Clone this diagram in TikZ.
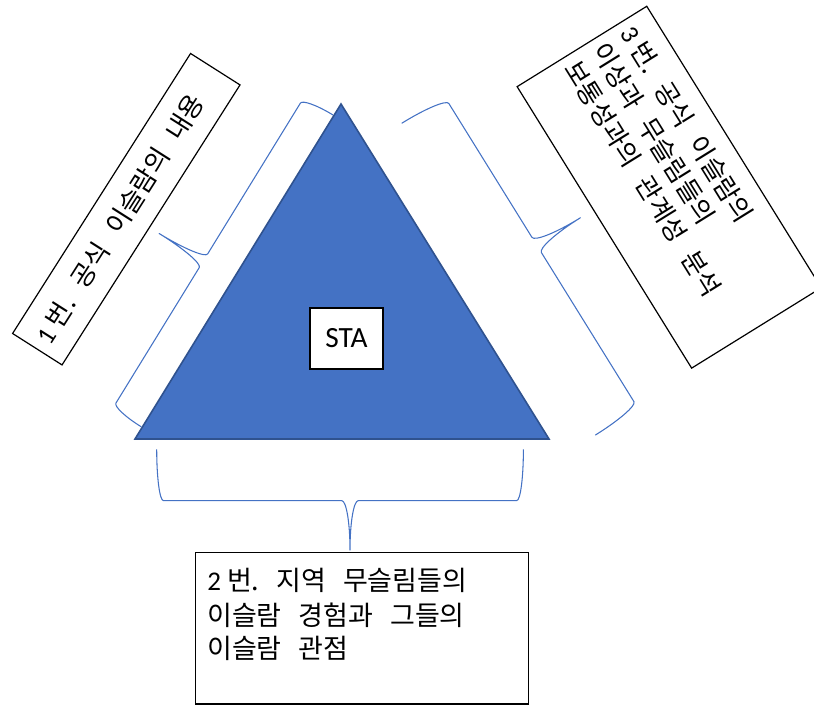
\documentclass[tikz,border=0pt]{standalone}
\usepackage{fontspec}
\setmainfont{Carlito}
\newfontfamily\kr{Noto Sans CJK KR}
\newfontfamily\carl{Carlito}
\newcommand\korA{\kr\fontsize{20.25}{25.4}\selectfont\frenchspacing\fontdimen2\font=12.75pt\fontdimen3\font=0pt\fontdimen4\font=0pt\relax}
\newcommand\korB{\kr\fontsize{19.5}{24.75}\selectfont\frenchspacing\fontdimen2\font=12pt\fontdimen3\font=0pt\fontdimen4\font=0pt\relax}
\definecolor{triblue}{HTML}{4472C4}
\definecolor{triedge}{HTML}{2F528F}
\definecolor{braceblue}{HTML}{4472C4}
\tikzset{
  bracestyle/.style={draw=braceblue, line width=0.8pt, line join=round},
  tri/.style={fill=triblue, draw=triedge, line width=1.2pt, line join=miter},
  txtbox/.style={draw=black, fill=white, line width=0.9pt, inner sep=0pt},
  kor/.style={inner sep=0pt, font=\korB, anchor=base west},
  korbig/.style={inner sep=0pt, font=\korA, anchor=base west},
  stabox/.style={draw=black, fill=white, line width=0.9pt, inner sep=0pt,
    minimum width=54.75pt, minimum height=45.75pt, font=\carl\fontsize{22}{26}\selectfont}
}
% Office-style curly brace in local (u,v) coordinates: L, tip u, body v, tip v, end curl, tip curl
\newcommand\officebrace[6]{%
  \pgfmathsetmacro\brL{#1}\pgfmathsetmacro\brT{#2}\pgfmathsetmacro\brB{#3}%
  \pgfmathsetmacro\brD{#4}\pgfmathsetmacro\brC{#5}\pgfmathsetmacro\brCC{#6}%
  \pgfmathsetmacro\brK{0.5523}%
  \draw[bracestyle] (0,0) .. controls (0,\brK*\brB) and (\brC-\brK*\brC,\brB) .. (\brC,\brB)
    -- (\brT-\brCC,\brB) .. controls (\brT-\brCC+\brK*\brCC,\brB) and (\brT,\brD-\brK*\brD+\brK*\brB) .. (\brT,\brD)
    .. controls (\brT,\brD-\brK*\brD+\brK*\brB) and (\brT+\brCC-\brK*\brCC,\brB) .. (\brT+\brCC,\brB)
    -- (\brL-\brC,\brB) .. controls (\brL-\brC+\brK*\brC,\brB) and (\brL,\brK*\brB) .. (\brL,0);
}
\begin{document}
\begin{tikzpicture}[x=0.75pt, y=-0.75pt]
\useasboundingbox (0,0) rectangle (814,704);
\clip (0,0) rectangle (814,704);

% braces
\begin{scope}[shift={(333,115)}, x={(-0.3929pt,-0.6389pt)}, y={(-0.6389pt,0.3929pt)}]
  \officebrace{366}{192}{34}{86}{7}{8}
\end{scope}
\begin{scope}[shift={(401.7,123.3)}, x={(0.3956pt,-0.6372pt)}, y={(0.6372pt,0.3956pt)}]
  \officebrace{367}{174.5}{50.5}{102}{8}{9}
\end{scope}
\begin{scope}[shift={(156.7,449.3)}, x={(0.75pt,0pt)}, y={(0pt,-0.75pt)}]
  \officebrace{366.7}{193.3}{51.3}{100.7}{6.7}{8.3}
\end{scope}

% triangle
\coordinate (apex) at (341,104);
\coordinate (bl) at (135,439);
\coordinate (br) at (549,439);
\draw[tri] (apex) -- (bl) -- (br) -- cycle;

\node[stabox] (sta) at (346.5,338.5) {STA};

% left box
\begin{scope}[shift={(126.3,209.2)}, rotate=57.56]
  \node[txtbox, transform shape, minimum width=248.85pt, minimum height=43.95pt] (lbox) at (0,0) {};
  \node[kor, transform shape] (ltext) at (-156.6,9.5) {{\carl 1 }번. 공식 이슬람의 내용};
\end{scope}

% right box
\begin{scope}[shift={(669.2,187.2)}, rotate=-58.2]
  \node[txtbox, transform shape, minimum width=248.4pt, minimum height=114.4pt] (rbox) at (0,0) {};
  \node[kor, transform shape] (rline1) at (-157.5,-38.5) {{\carl 3 }번. 공식 이슬람의};
  \node[kor, transform shape] (rline2) at (-157.5,-5.5) {이상과 무슬림들의};
  \node[kor, transform shape] (rline3) at (-157,27.5) {보통성과의 관계성 분석};
\end{scope}

% bottom box
\node[txtbox, anchor=north west, minimum width=249.75pt, minimum height=113.7pt] (bbox) at (194.7,551.7) {};
\node[korbig] (bline1) at (207,590) {{\carl 2 }번. 지역 무슬림들의};
\node[korbig] (bline2) at (207,625) {이슬람 경험과 그들의};
\node[korbig] (bline3) at (207,658) {이슬람 관점};
\end{tikzpicture}
\end{document}
